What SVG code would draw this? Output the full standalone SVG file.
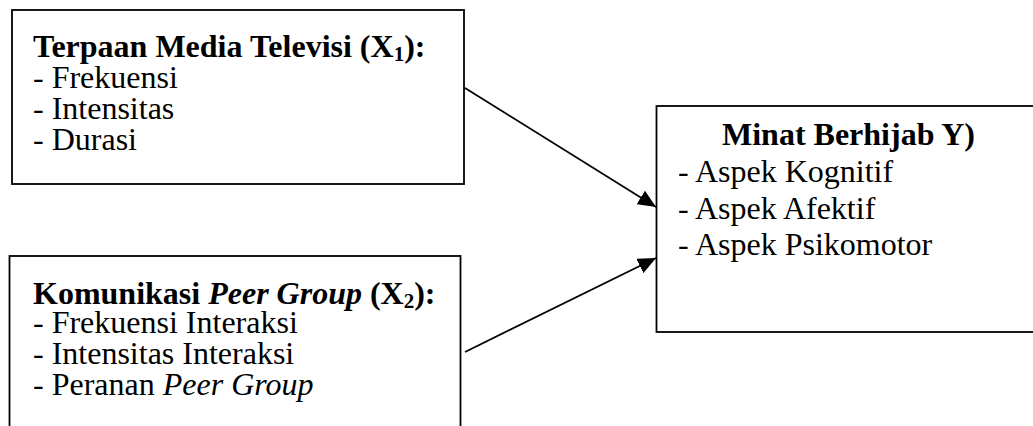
<svg xmlns="http://www.w3.org/2000/svg" width="1033" height="426" viewBox="0 0 1033 426">
<style>
.box{fill:#fff;stroke:#000;stroke-width:1.8}
.t{font-family:"Liberation Serif","Times New Roman",serif;font-size:32px;fill:#000}
.b{font-weight:bold}
.i{font-style:italic}
.sub{font-size:21px}
.edge{stroke:#000;stroke-width:1.8;fill:none}
</style>
<defs>
<marker id="arr" markerWidth="19" markerHeight="16" refX="18" refY="8" orient="auto" markerUnits="userSpaceOnUse">
<path d="M0,0 L18,8 L0,16 Z" fill="#000"/>
</marker>
</defs>
<g id="node-x1">
<rect class="box" x="12" y="10" width="452" height="174"/>
<text class="t b" x="33" y="57">Terpaan Media Televisi (X<tspan class="sub" dy="4">1</tspan><tspan dy="-4">):</tspan></text>
<text class="t" x="33" y="88">- Frekuensi</text>
<text class="t" x="33" y="119">- Intensitas</text>
<text class="t" x="33" y="150">- Durasi</text>
</g>
<g id="node-x2">
<rect class="box" x="9.5" y="256" width="451" height="180"/>
<text class="t b" x="33" y="304">Komunikasi <tspan class="i">Peer Group</tspan> (X<tspan class="sub" dy="4">2</tspan><tspan dy="-4">):</tspan></text>
<text class="t" x="33" y="333">- Frekuensi Interaksi</text>
<text class="t" x="33" y="364">- Intensitas Interaksi</text>
<text class="t" x="33" y="395">- Peranan <tspan class="i">Peer Group</tspan></text>
</g>
<g id="node-y">
<rect class="box" x="656.5" y="106" width="390" height="226"/>
<text class="t b" x="722" y="145">Minat Berhijab Y)</text>
<text class="t" x="678" y="182">- Aspek Kognitif</text>
<text class="t" x="678" y="219">- Aspek Afektif</text>
<text class="t" x="678" y="255">- Aspek Psikomotor</text>
</g>
<g id="connectors">
<line class="edge" x1="465" y1="88" x2="656" y2="207" marker-end="url(#arr)"/>
<line class="edge" x1="465" y1="352" x2="656" y2="258" marker-end="url(#arr)"/>
</g>
</svg>
